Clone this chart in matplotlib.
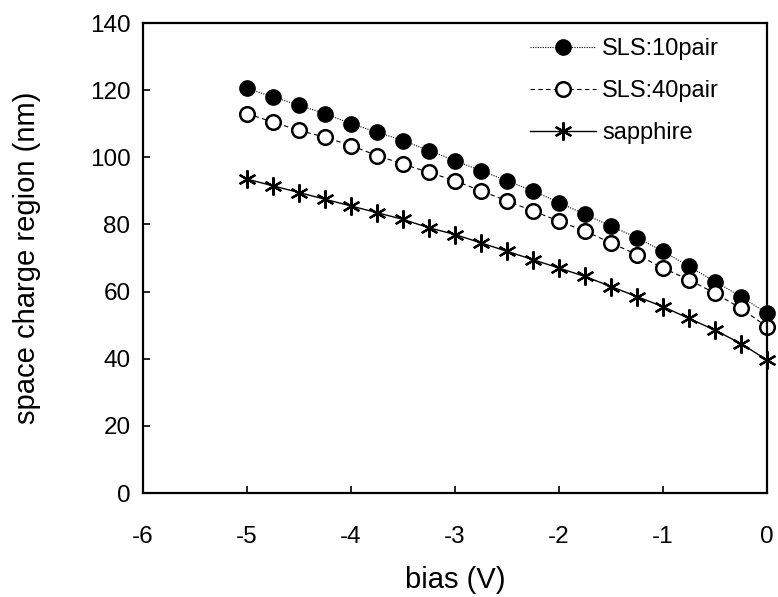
import matplotlib
matplotlib.use('Agg')
import matplotlib.pyplot as plt
import numpy as np

plt.rcParams['font.family'] = ['Liberation Sans', 'DejaVu Sans']
plt.rcParams['axes.unicode_minus'] = False

bias = [-5, -4.75, -4.5, -4.25, -4, -3.75, -3.5, -3.25, -3, -2.75, -2.5,
        -2.25, -2, -1.75, -1.5, -1.25, -1, -0.75, -0.5, -0.25, 0]
sls10 = [120.5, 118, 115.5, 113, 110, 107.5, 105, 102, 99, 96, 93,
         90, 86.5, 83, 79.5, 76, 72, 67.5, 63, 58.5, 53.5]
sls40 = [113, 110.5, 108, 106, 103.5, 100.5, 98, 95.5, 93, 90, 87,
         84, 81, 78, 74.5, 71, 67, 63.5, 59.5, 55, 49.5]
sapphire = [93.5, 91.5, 89.5, 87.5, 85.5, 83.5, 81.5, 79, 77, 74.5, 72,
            69.5, 67, 64.5, 61.5, 58.5, 55.5, 52, 48.5, 44.5, 39.6]

fig = plt.figure(figsize=(7.78, 5.97), dpi=100)
# axes box: x 143..767 px, y 23..493 px
ax = fig.add_axes([143/778, 104/597, 624/778, 470/597])

ax.plot(bias, sls10, color='black', lw=0.8, ls=(0, (1, 1.2)), marker='o',
        ms=11, mfc='black', mec='black', label='SLS:10pair', clip_on=False)
ax.plot(bias, sls40, color='black', lw=0.8, ls=(0, (4, 3)), marker='o',
        ms=10.5, mfc='white', mec='black', mew=1.8, label='SLS:40pair', clip_on=False)
ax.plot(bias, sapphire, color='black', lw=1.0, ls='-', marker=(6, 2, 0),
        ms=13, mec='black', mew=1.6, label='sapphire', clip_on=False)

ax.set_xlim(-6, 0)
ax.set_ylim(0, 140)
ax.set_xticks(np.arange(-6, 1, 1))
ax.set_yticks(np.arange(0, 141, 20))
ax.tick_params(direction='in', length=5, width=1.2, labelsize=17.5,
               top=False, right=False)
ax.tick_params(axis='x', pad=24)
ax.tick_params(axis='y', pad=9)
for s in ax.spines.values():
    s.set_linewidth(1.6)

ax.set_xlabel('bias (V)', fontsize=21, labelpad=13)
ax.set_ylabel('space charge region (nm)', fontsize=21, labelpad=35)

ax.legend(loc='upper left', bbox_to_anchor=(530/778, 559/597),
          bbox_transform=fig.transFigure, frameon=False,
          fontsize=17, handlelength=2.8, handletextpad=0.25, labelspacing=0.85,
          borderpad=0, borderaxespad=0)

fig.savefig('out.png', dpi=100)
